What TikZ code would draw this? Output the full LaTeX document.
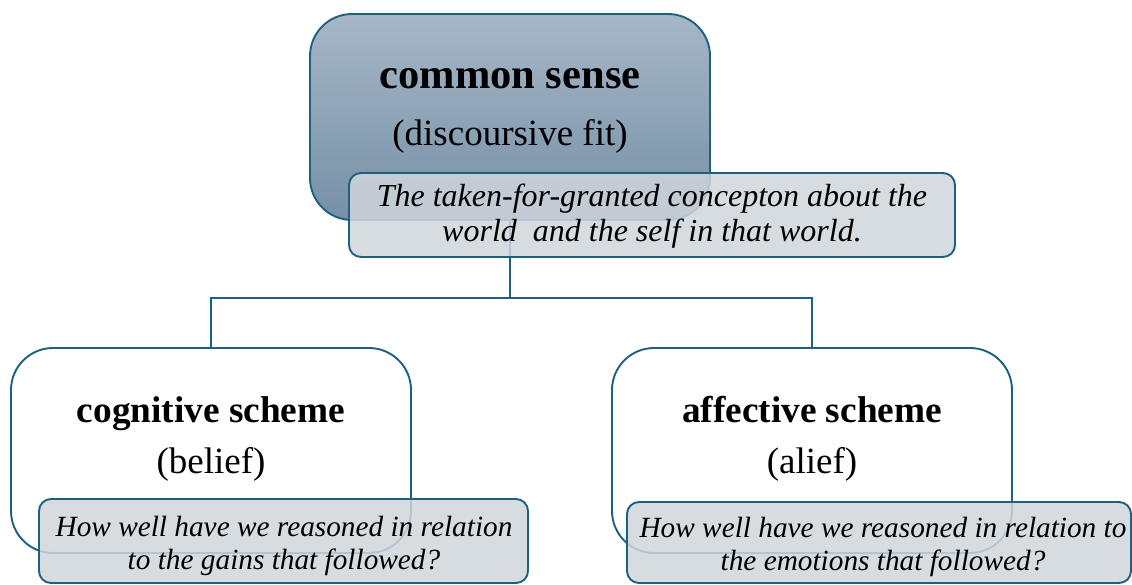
\documentclass[tikz,border=0pt]{standalone}
\usepackage{fontspec}
\setmainfont{Liberation Serif}
\definecolor{edgeblue}{RGB}{30,95,130}
\definecolor{captfill}{RGB}{208,214,220}
\definecolor{gradtop}{RGB}{166,183,199}
\definecolor{gradbot}{RGB}{118,144,166}
\tikzset{
  bigbox/.style={draw=edgeblue, line width=1.9pt, rounded corners=42pt, minimum width=400pt, inner sep=0pt},
  captbox/.style={draw=edgeblue, line width=1.9pt, rounded corners=12pt, fill=captfill, fill opacity=0.85, inner sep=0pt},
  capttext/.style={inner sep=0pt, align=center, font=\fontsize{29.3}{32.5}\selectfont\itshape},
  titletext/.style={anchor=base, font=\fontsize{37.3}{40}\selectfont\bfseries},
  subtext/.style={anchor=base, font=\fontsize{37}{40}\selectfont},
  link/.style={draw=edgeblue, line width=1.9pt}
}
\begin{document}
\begin{tikzpicture}[x=1pt,y=-1pt]
\useasboundingbox (0,0) rectangle (1132,584);
% top box
\node[bigbox, minimum height=206pt, top color=gradtop, bottom color=gradbot] (top) at (510,117) {};
\node[titletext, font=\fontsize{42.5}{46}\selectfont\bfseries] (toptitle) at (510,88) {common sense};
\node[subtext] (topsub) at (510,145) {(discoursive fit)};
% child boxes
\node[bigbox, minimum height=205pt, fill=white] (left) at (211,450.5) {};
\node[bigbox, minimum height=205pt, fill=white] (right) at (812,450.5) {};
\node[titletext] (lefttitle) at (211,422) {cognitive scheme};
\node[subtext] (leftsub) at (211,473) {(belief)};
\node[titletext] (righttitle) at (812,422) {affective scheme};
\node[subtext] (rightsub) at (812,473) {(alief)};
% connectors
\coordinate (junction) at (510,298);
\draw[link] (top.south) -- (junction) -| (left.north);
\draw[link] (junction) -| (right.north);
% captions
\node[captbox, minimum width=606pt, minimum height=84pt] (topcap) at (652,215) {};
\node[capttext, font=\fontsize{32}{35}\selectfont\itshape] (topcaptext) at (652,216)
  {The taken-for-granted concepton about the\\ world\ \ and the self in that world.};
\node[captbox, minimum width=489pt, minimum height=84pt] (leftcap) at (283.5,541) {};
\node[capttext] (leftcaptext) at (284,546)
  {How well have we reasoned in relation\\ to the gains that followed?};
\node[captbox, minimum width=504pt, minimum height=81pt] (rightcap) at (879,542.5) {};
\node[capttext] (rightcaptext) at (883,547)
  {How well have we reasoned in relation to\\ the emotions that followed?};
\end{tikzpicture}
\end{document}
